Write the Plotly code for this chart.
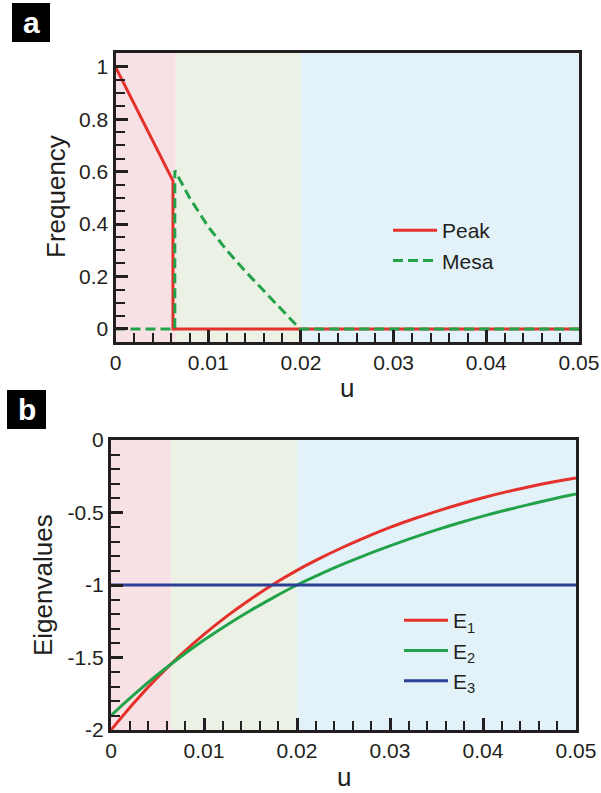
import plotly.graph_objects as go

# ---------------- data ----------------
# panel a
u_peak = [0.0, 0.0031, 0.0062, 0.0062, 0.05]
peak = [1.0, 0.785, 0.565, 0.0, 0.0]
u_mesa = [0.0, 0.0064, 0.0064, 0.008, 0.010, 0.012, 0.014, 0.016, 0.018, 0.0199, 0.05]
mesa = [0.0, 0.0, 0.605, 0.50, 0.39, 0.30, 0.22, 0.145, 0.07, 0.0, 0.0]

# panel b
u_e = [0.0, 0.0025, 0.005, 0.0075, 0.01, 0.0125, 0.015, 0.0175, 0.02, 0.0225, 0.025,
       0.0275, 0.03, 0.0325, 0.035, 0.0375, 0.04, 0.0425, 0.045, 0.0475, 0.05]
e1 = [-2.000, -1.810, -1.637, -1.482, -1.341, -1.213, -1.098, -0.993, -0.899, -0.815, -0.738,
      -0.668, -0.603, -0.545, -0.492, -0.443, -0.398, -0.358, -0.322, -0.290, -0.262]
e2 = [-1.900, -1.754, -1.619, -1.495, -1.380, -1.274, -1.176, -1.085, -1.000, -0.925, -0.855,
      -0.790, -0.730, -0.673, -0.620, -0.571, -0.525, -0.483, -0.444, -0.407, -0.373]
u_e3 = [0.0, 0.05]
e3 = [-1.0, -1.0]

# regime boundaries (shaded backgrounds)
region_edges = [0.0, 0.0065, 0.02, 0.05]
region_colors = ["#f8e1e4", "#ebf2e5", "#e3f2f8"]

# axis ranges
x_range = [0, 0.05]
ya_range = [-0.05, 1.053]
yb_range = [-2, 0]

# ticks
x_ticks = [0, 0.01, 0.02, 0.03, 0.04, 0.05]
x_ticktext = ["0", "0.01", "0.02", "0.03", "0.04", "0.05"]
x_minor = [0.002, 0.004, 0.006, 0.008, 0.012, 0.014, 0.016, 0.018, 0.022, 0.024,
           0.026, 0.028, 0.032, 0.034, 0.036, 0.038, 0.042, 0.044, 0.046, 0.048]
ya_ticks = [0, 0.2, 0.4, 0.6, 0.8, 1.0]
ya_ticktext = ["0", "0.2", "0.4", "0.6", "0.8", "1"]
ya_minor = [0.05, 0.1, 0.15, 0.25, 0.3, 0.35, 0.45, 0.5, 0.55, 0.65, 0.7, 0.75, 0.85, 0.9, 0.95]
yb_ticks = [-2, -1.5, -1, -0.5, 0]
yb_ticktext = ["-2", "-1.5", "-1", "-0.5", "0"]
yb_minor = [-1.9, -1.8, -1.7, -1.6, -1.4, -1.3, -1.2, -1.1, -0.9, -0.8, -0.7, -0.6,
            -0.4, -0.3, -0.2, -0.1]

# ---------------- layout helpers ----------------
W, H = 601, 793
def px(x):
    return x / W
def py(y):
    return 1 - y / H

INK = "#231f20"
FONT = "Liberation Sans, Arial, Helvetica, sans-serif"
RED = "#e4312b"
GREEN = "#22a34a"
BLUE = "#2b3f95"

fig = go.Figure()

# shaded regime backgrounds (filled traces drawn first, under the curves)
for xa, ya, yrng in (("x", "y", ya_range), ("x2", "y2", yb_range)):
    for i, c in enumerate(region_colors):
        x0, x1 = region_edges[i], region_edges[i + 1]
        fig.add_trace(go.Scatter(x=[x0, x1, x1, x0, x0], y=[yrng[0], yrng[0], yrng[1], yrng[1], yrng[0]],
                                 mode="lines", fill="toself", fillcolor=c, line=dict(width=0, color=c),
                                 hoverinfo="skip", showlegend=False, xaxis=xa, yaxis=ya))

fig.add_trace(go.Scatter(x=u_peak, y=peak, mode="lines", name="Peak",
                         line=dict(color=RED, width=3), xaxis="x", yaxis="y", legend="legend"))
fig.add_trace(go.Scatter(x=u_mesa, y=mesa, mode="lines", name="Mesa",
                         line=dict(color=GREEN, width=3, dash="10px,5px"), xaxis="x", yaxis="y",
                         legend="legend"))

fig.add_trace(go.Scatter(x=u_e, y=e1, mode="lines", name="E<sub>1</sub>", line_shape="spline",
                         line=dict(color=RED, width=3), xaxis="x2", yaxis="y2", legend="legend2"))
fig.add_trace(go.Scatter(x=u_e, y=e2, mode="lines", name="E<sub>2</sub>", line_shape="spline",
                         line=dict(color=GREEN, width=3), xaxis="x2", yaxis="y2", legend="legend2"))
fig.add_trace(go.Scatter(x=u_e3, y=e3, mode="lines", name="E<sub>3</sub>",
                         line=dict(color=BLUE, width=3), xaxis="x2", yaxis="y2", legend="legend2"))

# panel label boxes
shapes = [
    dict(type="rect", xref="paper", yref="paper", x0=px(12), x1=px(50), y0=py(42), y1=py(3),
         fillcolor="black", line_width=0),
    dict(type="rect", xref="paper", yref="paper", x0=px(7), x1=px(46), y0=py(429), y1=py(390),
         fillcolor="black", line_width=0),
]

tickfont = dict(family=FONT, size=21, color=INK)
def axis(domain, rng, anchor, tickvals, ticktext, minorvals):
    return dict(domain=domain, range=rng, anchor=anchor, tickmode="array",
                tickvals=tickvals, ticktext=ticktext,
                showline=True, linewidth=3, linecolor=INK, mirror=True,
                showgrid=False, zeroline=False,
                ticks="inside", ticklen=12, tickwidth=3, tickcolor=INK, tickfont=tickfont,
                minor=dict(tickmode="array", tickvals=minorvals, ticks="inside", ticklen=9,
                           tickwidth=2, tickcolor=INK, showgrid=False))

XA = [px(115.5), px(579)]
YA = [py(342), py(53)]
XB = [px(111), px(576)]
YB = [py(730), py(440)]

fig.update_layout(
    width=W, height=H, margin=dict(l=0, r=0, t=0, b=0, autoexpand=False),
    paper_bgcolor="white", plot_bgcolor="rgba(0,0,0,0)",
    font=dict(family=FONT, color=INK),
    xaxis=axis(XA, x_range, "y", x_ticks, x_ticktext, x_minor),
    yaxis=axis(YA, ya_range, "x", ya_ticks, ya_ticktext, ya_minor),
    xaxis2=axis(XB, x_range, "y2", x_ticks, x_ticktext, x_minor),
    yaxis2=axis(YB, yb_range, "x2", yb_ticks, yb_ticktext, yb_minor),
    legend=dict(x=px(388), y=py(210), xanchor="left", yanchor="top", bgcolor="rgba(0,0,0,0)",
                itemwidth=44, font=dict(family=FONT, size=21, color=INK), tracegroupgap=0),
    legend2=dict(x=px(399), y=py(600), xanchor="left", yanchor="top", bgcolor="rgba(0,0,0,0)",
                 itemwidth=44, font=dict(family=FONT, size=21, color=INK), tracegroupgap=0),
    shapes=shapes,
    showlegend=True,
)

annotations = [
    dict(text="Frequency", x=px(56), y=py(197), xref="paper", yref="paper", textangle=-90,
         showarrow=False, font=dict(family=FONT, size=26, color=INK), xanchor="center", yanchor="middle"),
    dict(text="u", x=px(347), y=py(388), xref="paper", yref="paper",
         showarrow=False, font=dict(family=FONT, size=26, color=INK), xanchor="center", yanchor="middle"),
    dict(text="Eigenvalues", x=px(43), y=py(585), xref="paper", yref="paper", textangle=-90,
         showarrow=False, font=dict(family=FONT, size=26, color=INK), xanchor="center", yanchor="middle"),
    dict(text="u", x=px(343.5), y=py(777), xref="paper", yref="paper",
         showarrow=False, font=dict(family=FONT, size=26, color=INK), xanchor="center", yanchor="middle"),
    dict(text="<b>a</b>", x=px(31), y=py(22.5), xref="paper", yref="paper",
         showarrow=False, font=dict(family=FONT, size=30, color="white"), xanchor="center", yanchor="middle"),
    dict(text="<b>b</b>", x=px(26.5), y=py(409.5), xref="paper", yref="paper",
         showarrow=False, font=dict(family=FONT, size=30, color="white"), xanchor="center", yanchor="middle"),
]
fig.update_layout(annotations=annotations)

fig.write_html("out.html")
